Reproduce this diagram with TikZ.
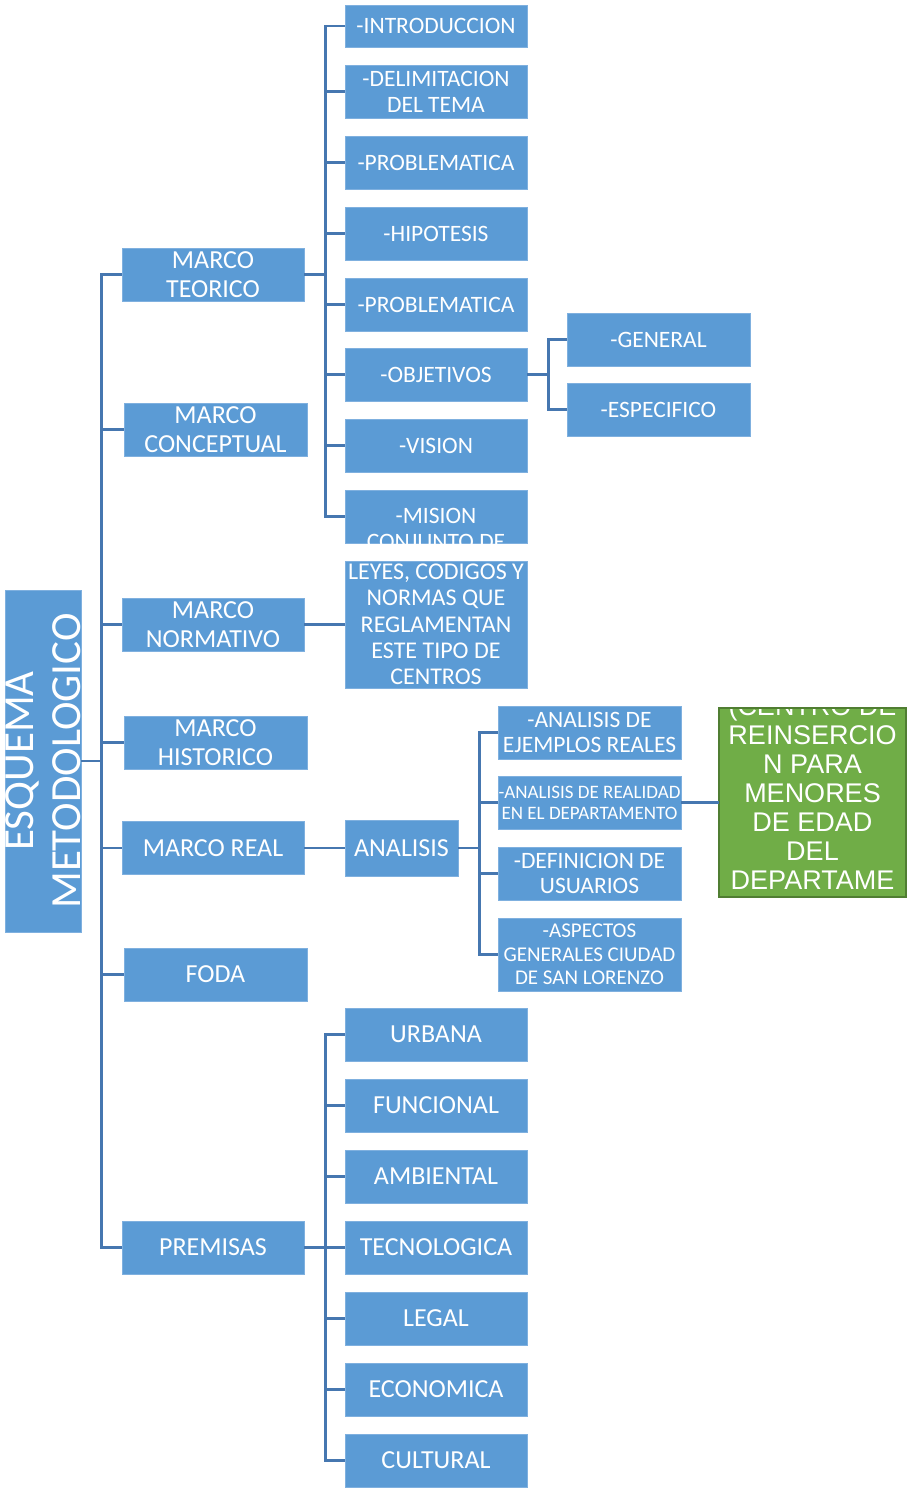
\documentclass[tikz,border=0pt]{standalone}
\usepackage{fontspec}
\setmainfont{Carlito}
\newfontfamily\arialf{Liberation Sans}
\definecolor{boxblue}{HTML}{5B9BD5}
\definecolor{boxedge}{HTML}{7FB0DF}
\definecolor{linecol}{HTML}{4677B0}
\definecolor{gfill}{HTML}{70AD47}
\definecolor{gedge}{HTML}{507E32}
\tikzset{
  bx/.style={fill=boxblue, draw=boxedge, line width=0.8pt, text=white, align=center, inner sep=0pt, minimum height=53pt},
  wA/.style={minimum width=182pt},
  wB/.style={minimum width=183pt},
  fbig/.style={font=\fontsize{26}{28.6}\selectfont},
  fmid/.style={font=\fontsize{23.5}{25.8}\selectfont},
  conn/.style={draw=linecol, line width=2.2pt},
  txt/.style={text=white, align=center, inner sep=0pt},
}
\begin{document}
\begin{tikzpicture}[x=1pt,y=-1pt]
\path[use as bounding box] (0,0) rectangle (907,1488);
% root
\node[bx, minimum width=76pt, minimum height=342pt] (esq) at (43,761) {};
\node[txt, rotate=90, font=\fontsize{43}{47}\selectfont] (esqt) at (esq.center) {ESQUEMA\\METODOLOGICO};
% level 1
\node[bx, wA, fbig] (mt) at (213,274.5) {MARCO\\TEORICO};
\node[bx, wB, fbig] (mc) at (215.5,429.5) {MARCO\\CONCEPTUAL};
\node[bx, wA, fbig] (mn) at (213,624.5) {MARCO\\NORMATIVO};
\node[bx, wB, fbig] (mh) at (215.5,742.5) {MARCO\\HISTORICO};
\node[bx, wA, fbig] (mr) at (213,848) {MARCO REAL};
\node[bx, wB, fbig] (foda) at (215.5,974.5) {FODA};
\node[bx, wA, fbig] (prem) at (213,1247.5) {PREMISAS};
% teorico children
\node[bx, wA, fmid, minimum height=42pt] (intro) at (436,26) {-INTRODUCCION};
\node[bx, wA, fmid] (delim) at (436,91.5) {-DELIMITACION\\DEL TEMA};
\node[bx, wA, fmid] (prob1) at (436,162.5) {-PROBLEMATICA};
\node[bx, wA, fmid] (hipo) at (436,233.5) {-HIPOTESIS};
\node[bx, wA, fmid] (prob2) at (436,304.5) {-PROBLEMATICA};
\node[bx, wA, fmid] (obj) at (436,374.5) {-OBJETIVOS};
\node[bx, wA, fmid] (vision) at (436,445.5) {-VISION};
\node[bx, wA] (mision) at (436,516.5) {};
\begin{scope}
\clip (mision.south west) rectangle (mision.north east);
\node[txt, fmid] (misiont) at (436,529) {-MISION\\CONJUNTO DE};
\end{scope}
% objetivos children
\node[bx, wB, fmid] (gen) at (658.5,339.5) {-GENERAL};
\node[bx, wB, fmid] (esp) at (658.5,409.5) {-ESPECIFICO};
% normativo child
\node[bx, wA, minimum height=127pt, font=\fontsize{24}{26.3}\selectfont] (leyes) at (436,624.5) {LEYES, CODIGOS Y\\NORMAS QUE\\REGLAMENTAN\\ESTE TIPO DE\\CENTROS};
% real
\node[bx, fbig, minimum width=113pt, minimum height=56pt] (anal) at (401.5,848) {ANALISIS};
\node[bx, wB, fmid] (a1) at (589.5,732.5) {-ANALISIS DE\\EJEMPLOS REALES};
\node[bx, wB, font=\fontsize{19}{21}\selectfont] (a2) at (589.5,802.5) {-ANALISIS DE REALIDAD\\EN EL DEPARTAMENTO};
\node[bx, wB, fmid] (a3) at (589.5,873.5) {-DEFINICION DE\\USUARIOS};
\node[bx, wB, minimum height=73pt, font=\fontsize{21}{23.3}\selectfont] (a4) at (589.5,954.5) {-ASPECTOS\\GENERALES CIUDAD\\DE SAN LORENZO};
% green
\node[fill=gfill, minimum width=187pt, minimum height=188pt, inner sep=0pt] (cen) at (812.5,802.5) {};
\begin{scope}
\clip (cen.south west) rectangle (cen.north east);
\node[txt, font=\arialf\fontsize{27}{29}\selectfont] (cent) at (812.5,793) {(CENTRO DE\\REINSERCIO\\N PARA\\MENORES\\DE EDAD\\DEL\\DEPARTAME};
\end{scope}
\draw[gedge, line width=2pt] (cen.south west) rectangle (cen.north east);
% premisas children
\node[bx, wA, fbig] (p1) at (436,1034.5) {URBANA};
\node[bx, wA, fbig] (p2) at (436,1105.5) {FUNCIONAL};
\node[bx, wA, fbig] (p3) at (436,1176.5) {AMBIENTAL};
\node[bx, wA, fbig] (p4) at (436,1247.5) {TECNOLOGICA};
\node[bx, wA, fbig] (p5) at (436,1318.5) {LEGAL};
\node[bx, wA, fbig] (p6) at (436,1389.5) {ECONOMICA};
\node[bx, wA, fbig] (p7) at (436,1460.5) {CULTURAL};
% connectors
\foreach \c in {mt,mc,mn,mh,mr,foda,prem}
  \draw[conn] (esq.east) -- ++(20,0) |- (\c.west);
\foreach \c in {intro,delim,prob1,hipo,prob2,obj,vision,mision}
  \draw[conn] (mt.east) -- ++(21,0) |- (\c.west);
\foreach \c in {gen,esp}
  \draw[conn] (obj.east) -- ++(21,0) |- (\c.west);
\draw[conn] (mn.east) -- (leyes.west);
\draw[conn] (mr.east) -- (anal.west);
\foreach \c in {a1,a2,a3,a4}
  \draw[conn] (anal.east) -- ++(21,0) |- (\c.west);
\draw[conn] (a2.east) -- (cen.west);
\foreach \c in {p1,p2,p3,p4,p5,p6,p7}
  \draw[conn] (prem.east) -- ++(21,0) |- (\c.west);
\end{tikzpicture}
\end{document}
